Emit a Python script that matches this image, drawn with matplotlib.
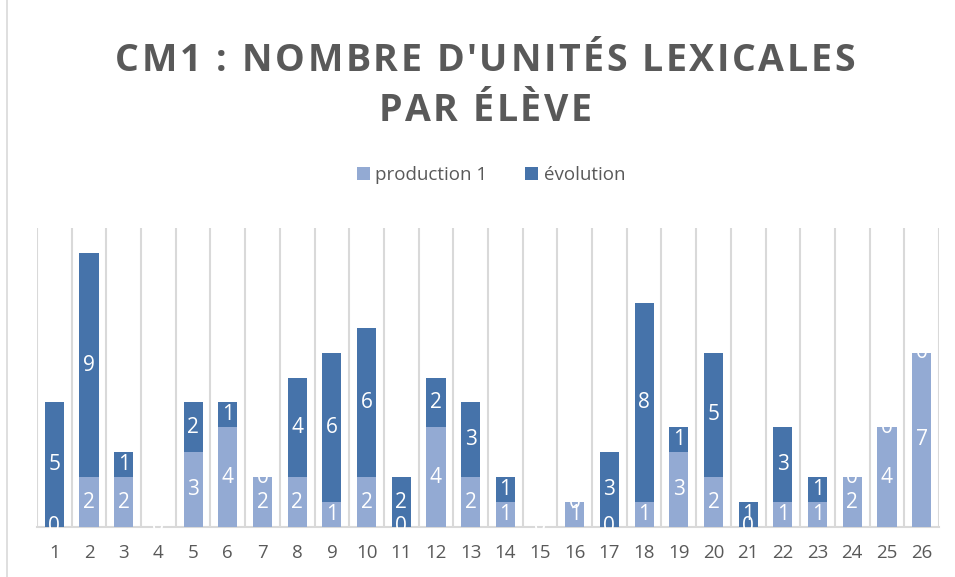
import numpy as np
import matplotlib.pyplot as plt
from matplotlib.patches import Rectangle
from matplotlib.textpath import TextPath
from matplotlib.font_manager import FontProperties

eleves = [str(i) for i in range(1, 27)]
production1 = [0, 2, 2, 0, 3, 4, 2, 2, 1, 2, 0, 4, 2, 1, 0, 1, 0, 1, 3, 2, 0, 1, 1, 2, 4, 7]
evolution = [5, 9, 1, 0, 2, 1, 0, 4, 6, 6, 2, 2, 3, 1, 0, 0, 3, 8, 1, 5, 1, 3, 1, 0, 0, 0]
titre = ["CM1 : NOMBRE D'UNITÉS LEXICALES", "PAR ÉLÈVE"]

c_prod = '#93AAD3'
c_evol = '#4673AA'
grey = '#595959'

plt.rcParams['font.family'] = ['Open Sans', 'DejaVu Sans']

fig = plt.figure(figsize=(9.55, 5.77), dpi=100)
ax = fig.add_axes([37/955, 50/577, 902/955, 299/577])

x = np.arange(len(eleves))
p = np.array(production1)
e = np.array(evolution)
w = 0.55
b1 = ax.bar(x, p, w, color=c_prod, label='production 1', zorder=3)
b2 = ax.bar(x, e, w, bottom=p, color=c_evol, label='évolution', zorder=3)

for i in range(len(x)):
    ax.text(x[i], p[i] / 2, str(p[i]), color='white', ha='center', va='center',
            fontsize=15, zorder=4)
    ax.text(x[i], p[i] + e[i] / 2, str(e[i]), color='white', ha='center', va='center',
            fontsize=15, zorder=4)

ax.set_xlim(-0.5, len(x) - 0.5)
ax.set_ylim(0, 12)
ax.set_yticks([])
ax.set_xticks(x)
ax.set_xticklabels(eleves, fontsize=13.5, color=grey)
ax.tick_params(axis='x', length=0, pad=12)
for v in np.arange(-0.5, len(x), 1.0):
    ax.axvline(v, color='#D9D9D9', lw=1.5, zorder=1)
for s in ['top', 'right', 'left']:
    ax.spines[s].set_visible(False)
ax.spines['bottom'].set_color('#D9D9D9')
ax.spines['bottom'].set_linewidth(1.5)


def spaced(txt, xc, yc, size, track):
    # title with letter spacing, laid out char by char (pixels)
    fp = FontProperties(family='Open Sans', weight='bold', size=size)
    scale = 100 / 72
    widths = []
    for ch in txt:
        if ch == ' ':
            wdt = TextPath((0, 0), 'a a', prop=fp).get_extents().width - \
                  TextPath((0, 0), 'aa', prop=fp).get_extents().width
        else:
            wdt = TextPath((0, 0), 'H' + ch + 'H', prop=fp).get_extents().width - \
                  TextPath((0, 0), 'HH', prop=fp).get_extents().width
        widths.append(wdt * scale + track)
    total = sum(widths) - track
    xp = xc - total / 2
    for ch, wdt in zip(txt, widths):
        fig.text(xp / 955, 1 - yc / 577, ch, ha='left', va='center', fontproperties=fp,
                 color=grey)
        xp += wdt


spaced(titre[0], 485, 61, 27, 2.6)
spaced(titre[1], 485, 111, 27, 2.6)

fig.legend(handles=[b1, b2], loc='center', bbox_to_anchor=(491/955, 1 - 175/577),
           ncol=2, frameon=False, fontsize=13.5, labelcolor=grey,
           handlelength=0.7, handleheight=0.7, handletextpad=0.3, columnspacing=2.0)

fig.patches.append(Rectangle((7/955, -0.01), 1, 1.02, transform=fig.transFigure,
                             fill=False, edgecolor='#D9D9D9', lw=1.2))

fig.savefig('out.png', dpi=100)
